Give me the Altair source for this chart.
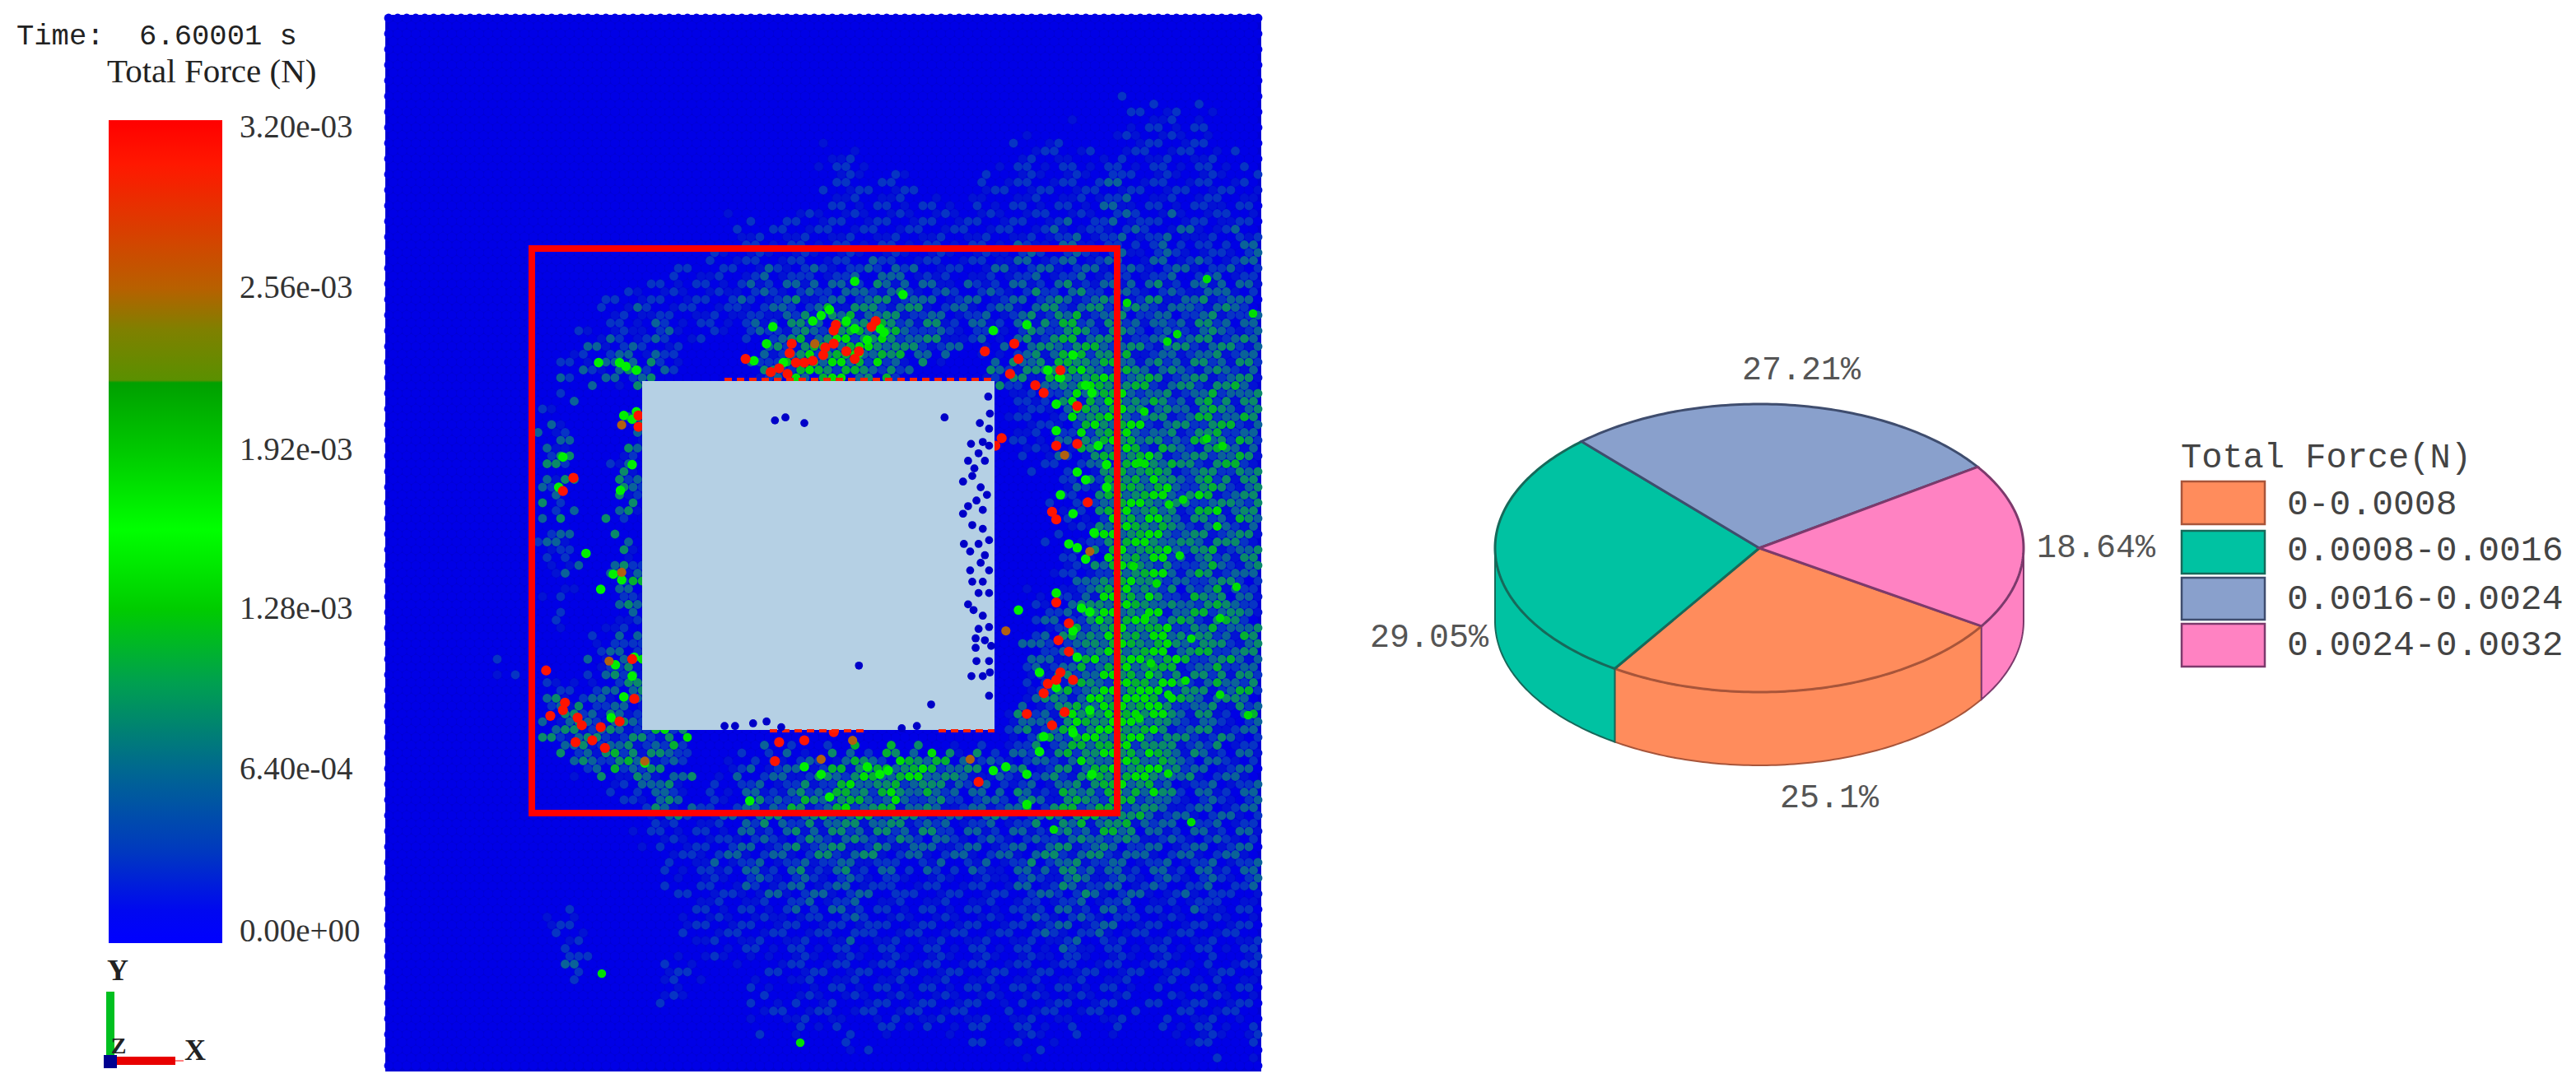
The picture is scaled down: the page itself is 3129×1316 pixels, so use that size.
import math
import altair as alt
import pandas as pd

W, H = 3113, 1296
sx = alt.Scale(domain=[8, 8 + W], range=[0, W], nice=False, zero=False)
sy = alt.Scale(domain=[8, 8 + H], range=[0, H], nice=False, zero=False)
X = lambda f="x": alt.X(f"{f}:Q", scale=sx, axis=None)
Y = lambda f="y": alt.Y(f"{f}:Q", scale=sy, axis=None)

# ---- particle panel: force level read per 28 px cell ----
field_rows = [
"00000000000000000000000000000000000000",
"00000000000000000000000000000000000000",
"00000000000000000000000000000000000000",
"00000000000000000000000000000000000000",
"00000000000000000000000000000000111100",
"00000000000000000000000000001100111100",
"00000000000000000001100000011111111110",
"00000000000000000001111000111112111111",
"00000000000000000011111111111112211121",
"00000000000000011111111111111212212111",
"00000000000000111111111111122222122122",
"00000000000011112222232211222222222222",
"00000000001111122232333222223333232332",
"00000000011211112334443322223433323332",
"00000000122210002345554321023444323333",
"00000000123310003455441000334554433333",
"00000002000000000000000000012355433343",
"00000002000500000000000000011255533443",
"00000002000300000000000000011245533443",
"00000003003000000000000000001124553343",
"00000003003300000000000000000124553433",
"00000003003000000000000000000115553534",
"00000002000000000000000000000015553333",
"00000002003000000000000000000115553433",
"00000001002400000000000000000125552332",
"00000001003400000000000000001135533442",
"00000001001000000000000000002245554343",
"00000000022300000000000000003245554433",
"00000100023500000000000000002345553343",
"00000002122450000000000000003345664334",
"00000003332350000000000000033456653322",
"00000003333340000000000000023456543322",
"00000000334320012223445543222345553222",
"00000000001230122234545432132345552222",
"00000000000231123434443322323444432222",
"00000000000111122233333322222334322222",
"00000000000011222233322222223333222222",
"00000000000011122222221111122332222222",
"00000000000001111222211111112222211211",
"00000001100001111111211111112222111111",
"00000000100000111111111111111211111111",
"00000000200011000111111111111111111011",
"00000000000010001011111111111111101111",
"00000000000000001111011111011111001110",
"00000000000000000000100001011000000101",
"00000000000000000000000000000000000000",
]
level_colors = ["#0000e6", "#0212d4", "#0634c4", "#0a6298", "#0a8a68", "#04b030", "#00e000"]
panel = dict(x=468, x2=1532, y=18, y2=1302)
cell = 28
# fixed texture tables: how a particle's shade and sampling spot differ from its cell's reading
shade_table = [[0, -1, 1, -2, 0], [1, 0, -2, 1, -1], [-2, 1, 0, -1, 1], [0, -1, 1, 0, -2], [1, -2, -1, 1, 0]]
spot_table = [-12, 6, -4, 13, -9, 2, 9]
step_x, step_y = 11, 9.5

parts = []
j = 0
py = panel["y"] + 4
while py < panel["y2"]:
    i = 0
    px = panel["x"] + 4 + (j % 2) * step_x / 2
    while px < panel["x2"] - 3:
        sxp = px + spot_table[(i * 3 + j) % 7]
        syp = py + spot_table[(i + j * 2) % 7]
        c = min(max(int((sxp - panel["x"]) // cell), 0), len(field_rows[0]) - 1)
        r = min(max(int((syp - panel["y"]) // cell), 0), len(field_rows) - 1)
        k = int(field_rows[r][c])
        if k > 0:
            k = max(0, min(6, k + shade_table[j % 5][(i * 2) % 5]))
        parts.append(dict(x=round(px, 1), y=round(py, 1), k=k))
        i += 1
        px += step_x
    j += 1
    py += step_y

panel_base = alt.Chart(pd.DataFrame([panel])).mark_rect(color="#0000d4").encode(x=X(), x2="x2:Q", y=Y(), y2="y2:Q")
field = alt.Chart(pd.DataFrame(parts)).mark_circle(size=118, opacity=1).encode(
    x=X(), y=Y(),
    color=alt.Color("k:O", scale=alt.Scale(domain=list(range(7)), range=level_colors), legend=None))

# hot particles, read in crop units of the central region
hot_red = [(870,240),(860,255),(775,250),(770,265),(670,300),(665,325),(680,350),(640,365),(620,375),(660,380),
 (750,310),(770,300),(745,330),(720,345),(700,350),(820,340),(830,320),(800,320),(560,340),
 (1200,300),(1210,340),(1190,380),(1250,410),(1270,430),(1350,465),(1310,370),(1170,550),(1155,570),(1300,570),
 (1350,565),(1290,745),(1300,765),(1375,720),(1300,985),(1330,1040),(1305,1085),(1330,1115),(1310,1170),
 (1280,1200),(1270,1225),(1300,1190),(1340,1190),(1290,1310),(1320,1275),(1230,1280),(1115,1460),(1130,320),
 (130,1250),(125,1270),(95,1285),(160,1290),(170,1310),(155,1355),(195,1350),(225,1370),(260,1300),(215,1315),
 (290,1135),(295,1240),(85,1165),(150,655),(125,690),(305,490),(305,520),(630,1405),(640,1355),(770,1328),(700,1350)]
hot_brown = [(725,300),(1320,595),(1180,1060),(1095,1400),(265,905),(235,1140),(265,515),(320,1405),(815,1350),(740,1400),(1380,850)]
hot_green = [(760,210),(740,225),(800,240),(820,260),(720,240),(625,255),(610,300),(880,260),(890,270),(830,325),(850,290),
 (650,350),(580,345),(820,135),(935,170),(275,360),(260,350),(300,370),(210,350),(290,500),(270,490),(300,480),(125,600),
 (115,680),(262,688),(290,620),(245,910),(265,925),(215,950),(180,855),(270,1235),(290,1180),(295,1130),(250,1150),(240,1290),
 (320,1410),(700,1420),(740,1440),(760,1500),(880,1440),(850,1420),(900,1430),(570,1510),
 (1130,320),(1150,265),(1230,250),(1280,370),(1310,390),(1370,410),(1385,430),(1300,460),(1340,330),(1400,570),(1300,530),
 (1350,640),(1310,700),(1370,660),(1420,680),(1340,750),(1350,840),(1370,870),(1330,830),(1390,800),(1420,620),(1300,960),
 (1360,1000),(1210,1005),(1380,1010),(1340,1060),(1260,1170),(1350,1130),(1300,1210),(1380,1270),(1270,1340),(1340,1330),
 (1260,1380),(1150,1430),(1180,1420),(1230,1440),(1230,1520),(1385,1440)]
outer_green = [(1466,533),(1485,542),(1437,607),(1420,613),(1384,562),(1418,593),(1390,500),(1418,415),(1369,368),(1522,381),
 (1466,339),(1430,406),(1377,688),(1433,675),(1405,709),(1502,713),(1482,751),(1391,751),(1398,806),(1440,827),(1419,844),
 (1482,844),(1516,869),(1384,873),(1447,776),(1419,940),(1447,999),(1280,1008),(972,1267),(731,1183)]
blue_on_plate = [(630,503),(655,495),(700,510),(1034,495),(830,1152),(1002,1255),(510,1312),(535,1312),(578,1305),(610,1300),
 (645,1315),(932,1318),(968,1312),(1138,440),(1142,485),(1118,510),(1140,525),(1097,565),(1125,560),(1115,590),(1090,610),
 (1105,630),(1078,665),(1100,650),(1110,715),(1078,750),(1100,780),(1080,830),(1095,850),(1120,880),(1095,900),(1100,930),
 (1115,960),(1140,960),(1103,1005),(1125,1020),(1115,1055),(1140,1050),(1108,1080),(1108,1105),(1110,1140),(1140,1140),
 (1098,1180),(1125,1180),(1142,1170),(1140,1232),(1145,1100),(1140,820),(1125,740),(1130,610),(1140,570),
 (1120,680),(1135,700),(1090,730),(1125,790),(1115,830),(1130,860),(1140,900),(1125,930),(1090,990),(1130,1085)]

def crop_pts(pts):
    return pd.DataFrame([dict(x=620 + 0.51 * a, y=280 + 0.459 * b) for a, b in pts])

def dots(df, color, size):
    return alt.Chart(df).mark_circle(color=color, size=size, opacity=1).encode(x=X(), y=Y())

plate = alt.Chart(pd.DataFrame([dict(x=780, x2=1208, y=463, y2=887)])).mark_rect(color="#b5d0e4").encode(
    x=X(), x2="x2:Q", y=Y(), y2="y2:Q")
edge_df = pd.DataFrame([dict(x=880, x2=1208, y=461), dict(x=935, x2=1050, y=888), dict(x=1140, x2=1208, y=888)])
edges = alt.Chart(edge_df).mark_rule(color="#ff2000", strokeWidth=4, strokeDash=[9, 6]).encode(x=X(), x2="x2:Q", y=Y())
box = alt.Chart(pd.DataFrame([dict(x=646, x2=1357, y=302, y2=988)])).mark_rect(
    fillOpacity=0, stroke="#ff0000", strokeWidth=8).encode(x=X(), x2="x2:Q", y=Y(), y2="y2:Q")

arrow_df = pd.DataFrame(dict(x=[1357, 1705, 1705, 1742], y=[633, 633, 615, 650], y2=[667, 667, 686, 650], i=[0, 1, 2, 3]))
arrow = alt.Chart(arrow_df).mark_area(color="#ff0000", opacity=1).encode(
    x=alt.X("x:Q", scale=sx, axis=None, sort=None), y=Y(), y2="y2:Q", order="i:Q")

# ---- colour bar ----
bar_stops = [(0, "#ff0000"), (0.054, "#ff1800"), (0.204, "#b86000"), (0.254, "#808000"), (0.316, "#5a9000"),
             (0.319, "#00a000"), (0.40, "#00c800"), (0.497, "#00ff00"), (0.594, "#00cc00"), (0.684, "#00a050"),
             (0.789, "#006890"), (0.89, "#0038c0"), (0.96, "#0008f0"), (1, "#0000ff")]
cbar = alt.Chart(pd.DataFrame([dict(x=132, x2=270, y=146, y2=1146)])).mark_rect(
    color=alt.Gradient(gradient="linear", x1=0, x2=0, y1=0, y2=1,
                       stops=[alt.GradientStop(offset=o, color=c) for o, c in bar_stops])
).encode(x=X(), x2="x2:Q", y=Y(), y2="y2:Q")

tick_labels = ["3.20e-03", "2.56e-03", "1.92e-03", "1.28e-03", "6.40e-04", "0.00e+00"]
tick_y = [155, 350, 547, 740, 935, 1132]
ticks = alt.Chart(pd.DataFrame(dict(x=[291] * 6, y=tick_y, t=tick_labels))).mark_text(
    align="left", baseline="middle", font="Liberation Serif", fontSize=39, color="#333333").encode(x=X(), y=Y(), text="t:N")

def label(x, y, t, font, size, color="#333333", align="left", weight="normal"):
    return alt.Chart(pd.DataFrame([dict(x=x, y=y, t=t)])).mark_text(
        align=align, baseline="middle", font=font, fontSize=size, color=color, fontWeight=weight).encode(x=X(), y=Y(), text="t:N")

# ---- triad ----
def bar(x, x2, y, y2, color):
    return alt.Chart(pd.DataFrame([dict(x=x, x2=x2, y=y, y2=y2)])).mark_rect(color=color).encode(
        x=X(), x2="x2:Q", y=Y(), y2="y2:Q")
triad = [bar(129, 139, 1205, 1285, "#00c020"), bar(140, 213, 1284, 1294, "#e80000"), bar(213, 223, 1288, 1290, "#ff8080"),
         bar(126, 142, 1282, 1298, "#000090")]

# ---- 3-D pie ----
pie_names = ["0-0.0008", "0.0008-0.0016", "0.0016-0.0024", "0.0024-0.0032"]
pie_values = [25.1, 29.05, 27.21, 18.64]
pie_fill = ["#ff8c5c", "#00c2a2", "#89a0cc", "#ff82c2"]
pie_edge = ["#a8553a", "#17695a", "#3f4d6e", "#7c3a6c"]
cx, cy, rx, ry, depth, start = 2137, 666, 321, 175, 89, 32.8

def ell(a):
    return cx + rx * math.cos(math.radians(a)), cy + ry * math.sin(math.radians(a))

def side(lo, hi, f, e):
    n = int(hi - lo) + 2
    pts = [ell(lo + (hi - lo) * i / (n - 1)) for i in range(n)]
    df = pd.DataFrame(dict(x=[p[0] for p in pts], y=[p[1] for p in pts], y2=[p[1] + depth for p in pts]))
    return alt.Chart(df).mark_area(color=f, opacity=1, stroke=e, strokeWidth=2).encode(
        x=alt.X("x:Q", scale=sx, axis=None), y=Y(), y2="y2:Q")

sides, tops = [], []
a0 = start
for v, f, e in zip(pie_values, pie_fill, pie_edge):
    a1 = a0 + v * 3.6
    if a0 < 180:
        sides.append(side(a0, min(a1, 180), f, e))
    if a1 > 360:
        sides.append(side(0, a1 - 360, f, e))
    n = int(a1 - a0) + 2
    pts = [(cx, cy)] + [ell(a0 + (a1 - a0) * i / (n - 1)) for i in range(n)]
    df = pd.DataFrame(dict(x=[p[0] for p in pts], y=[p[1] for p in pts], i=list(range(len(pts)))))
    tops.append(alt.Chart(df).mark_line(fill=f, stroke=e, strokeWidth=3, interpolate="linear-closed").encode(
        x=alt.X("x:Q", scale=sx, axis=None), y=Y(), order="i:Q"))
    a0 = a1

# ---- legend ----
legend_y = [(585, 637), (645, 697), (702, 753), (758, 810)]
legend_text_y = [612, 668, 727, 783]
swatches = alt.Chart(pd.DataFrame(dict(x=[2650] * 4, x2=[2751] * 4, y=[a for a, b in legend_y], y2=[b for a, b in legend_y], n=pie_names))).mark_rect(
    strokeWidth=2.5).encode(x=X(), x2="x2:Q", y=Y(), y2="y2:Q",
    fill=alt.Fill("n:N", scale=alt.Scale(domain=pie_names, range=pie_fill), legend=None),
    stroke=alt.Stroke("n:N", scale=alt.Scale(domain=pie_names, range=pie_edge), legend=None))
legend_labels = alt.Chart(pd.DataFrame(dict(x=[2778] * 4, y=legend_text_y, t=pie_names))).mark_text(
    align="left", baseline="middle", font="Liberation Mono", fontSize=43, color="#444444").encode(x=X(), y=Y(), text="t:N")

layers = [panel_base, field, dots(crop_pts(hot_green), "#00f000", 135), dots(pd.DataFrame(outer_green, columns=["x", "y"]), "#00e000", 110),
          dots(crop_pts(hot_brown), "#b06010", 125), dots(crop_pts(hot_red), "#ff1400", 150),
          plate, edges, dots(crop_pts(blue_on_plate), "#0000c8", 95), box, arrow, cbar, ticks,
          label(20, 43, "Time:\u00a0\u00a06.60001\u00a0s", "Liberation Mono", 35.5, "#222222"),
          label(130, 88, "Total Force (N)", "Liberation Serif", 41, "#222222"),
          *triad,
          label(143, 1180, "Y", "Liberation Serif", 36, "#222222", "center", "bold"),
          label(144, 1272, "Z", "Liberation Serif", 28, "#222222", "center", "bold"),
          label(237, 1277, "X", "Liberation Serif", 36, "#222222", "center", "bold"),
          *sides, *tops,
          label(2116, 449, "27.21%", "Liberation Mono", 40, "#555555"),
          label(2474, 665, "18.64%", "Liberation Mono", 40, "#555555"),
          label(1664, 774, "29.05%", "Liberation Mono", 40, "#555555"),
          label(2162, 969, "25.1%", "Liberation Mono", 40, "#555555"),
          label(2649, 555, "Total Force(N)", "Liberation Mono", 42, "#444444"),
          swatches, legend_labels]

alt.data_transformers.disable_max_rows()
chart = alt.layer(*layers).resolve_scale(color="independent", fill="independent", stroke="independent").properties(
    width=W, height=H, padding=0, background="white", autosize=alt.AutoSizeParams(type="none")
).configure_view(stroke=None)
chart.save("out.html", embed_options={"renderer": "svg", "actions": False})
